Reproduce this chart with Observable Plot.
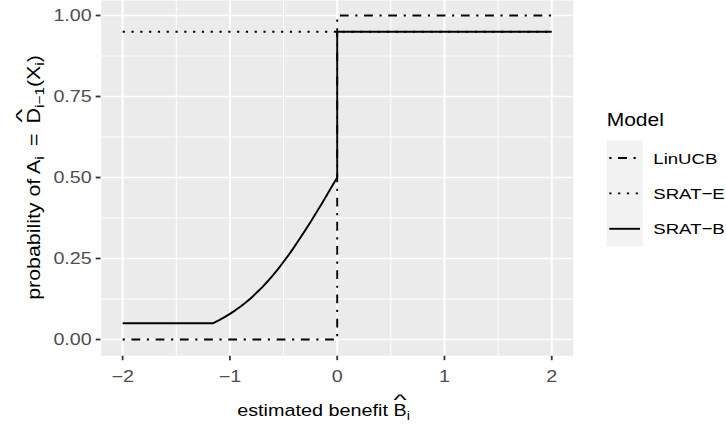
<!DOCTYPE html>
<html><head><meta charset="utf-8">
<script src="https://cdn.jsdelivr.net/npm/d3@7"></script>
<script src="https://cdn.jsdelivr.net/npm/@observablehq/plot@0.6"></script>
<style>
html,body{margin:0;padding:0;background:#fff;}
svg text{white-space:pre;}
</style>
</head><body><div id="chart"></div>
<script>
// ---- data ----
const xTicks = [-2, -1, 0, 1, 2];
const xMinor = [-1.5, -0.5, 0.5, 1.5];
const yTicks = [0, 0.25, 0.5, 0.75, 1];
const yMinor = [0.125, 0.375, 0.625, 0.875];
const models = ["LinUCB", "SRAT\u2212E", "SRAT\u2212B"];

const linucbX = [-2, 0, 0, 2];
const linucbY = [0, 0, 1, 1];
const sratEX = [-2, 2];
const sratEY = [0.95, 0.95];
const sratBX = [-2, -1.16, -1.10, -1.05, -1.00, -0.95, -0.90, -0.85, -0.80, -0.75, -0.70, -0.65, -0.60,
  -0.55, -0.50, -0.45, -0.40, -0.35, -0.30, -0.25, -0.20, -0.15, -0.10, -0.05, 0, 0, 2];
const sratBY = [0.05, 0.050, 0.060, 0.069, 0.079, 0.090, 0.102, 0.115, 0.129, 0.145, 0.161, 0.179, 0.198,
  0.218, 0.240, 0.262, 0.286, 0.311, 0.336, 0.362, 0.389, 0.416, 0.444, 0.472, 0.500, 0.95, 0.95];

// ---- styles ----
const dashes = {"LinUCB": "2.2,6.6,8.8,6.6", "SRAT\u2212E": "2.2,6.6", "SRAT\u2212B": null};
const FONT = "'Liberation Sans', Arial, Helvetica, sans-serif";
const S = 1.2; // horizontal text stretch

const rows = (xs, ys, m) => xs.map((x, i) => ({x, y: ys[i], model: m}));
const series = [rows(linucbX, linucbY, models[0]), rows(sratEX, sratEY, models[1]), rows(sratBX, sratBY, models[2])];

const lineMarks = series.map((data, i) => Plot.line(data, {
  x: "x", y: "y", stroke: "black", strokeWidth: 1.9,
  strokeLinecap: "butt", strokeLinejoin: "round",
  strokeDasharray: dashes[models[i]] || undefined
}));

const plot = Plot.plot({
  width: 726, height: 425,
  marginLeft: 100.7, marginRight: 153.3, marginTop: 0, marginBottom: 69.8,
  style: {fontFamily: FONT, fontSize: "16.4px", color: "#333333", background: "white", overflow: "visible"},
  x: {domain: [-2.2, 2.2], ticks: xTicks, tickFormat: d => d < 0 ? "\u2212" + Math.abs(d) : String(d), tickSize: 5, tickPadding: 9.5, label: null},
  y: {domain: [-0.05, 1.0463], ticks: yTicks, tickFormat: d => d.toFixed(2), tickSize: 5, tickPadding: 4.5, label: null},
  marks: [
    Plot.frame({fill: "#EBEBEB", stroke: "none"}),
    Plot.ruleX(xMinor, {stroke: "white", strokeWidth: 1.0}),
    Plot.ruleY(yMinor, {stroke: "white", strokeWidth: 0.9}),
    Plot.ruleX(xTicks, {stroke: "white", strokeWidth: 2.0}),
    Plot.ruleY(yTicks, {stroke: "white", strokeWidth: 1.7}),
    ...lineMarks
  ]
});
document.getElementById("chart").appendChild(plot);

// stretch Plot's texts horizontally and colour them like ggplot axis text
plot.querySelectorAll("text").forEach(t => {
  const x = parseFloat(t.getAttribute("x")) || 0;
  const tr = t.getAttribute("transform") || "";
  t.setAttribute("transform", `${tr} translate(${x},0) scale(${S},1) translate(${-x},0)`);
  t.setAttribute("fill", "#4D4D4D");
});
plot.querySelectorAll('g[aria-label$="tick"] path, g.tick line').forEach(p => {
  p.setAttribute("stroke-width", 1.8);
});

const svg = d3.select(plot);

// math-like titles built of tspans
function mathText(transform, parts, fs) {
  const g = svg.append("g").attr("transform", transform + ` scale(${S},1)`);
  const txt = g.append("text").attr("font-family", FONT).attr("font-size", fs)
    .attr("fill", "black").attr("text-anchor", "start");
  let shifted = false;
  const sub = fs * 0.72, drop = fs * 0.24;
  parts.forEach(p => {
    const ts = txt.append("tspan").text(p.t).attr("font-size", p.sub ? sub : fs);
    if (p.sub && !shifted) { ts.attr("dy", drop); shifted = true; }
    else if (!p.sub && shifted) { ts.attr("dy", -drop); shifted = false; }
  });
  const node = txt.node();
  const total = node.getComputedTextLength();
  txt.attr("x", -total / 2);
  let idx = 0;
  parts.forEach(p => {
    if (p.hat) {
      const a = node.getStartPositionOfChar(idx), b = node.getEndPositionOfChar(idx);
      g.append("text").attr("font-family", FONT).attr("font-size", fs * 1.05)
        .attr("text-anchor", "middle").attr("fill", "black")
        .attr("transform", `translate(${(a.x + b.x) / 2},${-fs * 0.66}) scale(1.35,0.85)`)
        .text("^");
    }
    idx += p.t.length;
  });
}

mathText("translate(323.5,416)", [
  {t: "estimated benefit "}, {t: "B", hat: true}, {t: "i", sub: true}
], 16.5);

mathText("translate(39.5,177.5) rotate(-90)", [
  {t: "probability of A"}, {t: "i", sub: true}, {t: "\u2009 = \u2009"}, {t: "D", hat: true},
  {t: "i\u22121", sub: true}, {t: "(X"}, {t: "i", sub: true}, {t: ")"}
], 17.8);

// legend
const lg = svg.append("g").attr("font-family", FONT).attr("text-anchor", "start");
lg.append("text").attr("transform", `translate(606.7,126) scale(${S},1)`).attr("text-anchor", "start")
  .attr("font-size", 17.5).attr("fill", "black").text("Model");
models.forEach((m, i) => {
  const cy = 158 + i * 35.4;
  lg.append("rect").attr("x", 606.7).attr("y", cy - 17.7).attr("width", 36).attr("height", 35.4).attr("fill", "#F2F2F2");
  const ln = lg.append("line").attr("x1", 609.3).attr("x2", 640).attr("y1", cy).attr("y2", cy)
    .attr("stroke", "black").attr("stroke-width", 1.9).attr("stroke-linecap", "butt");
  if (dashes[m]) ln.attr("stroke-dasharray", dashes[m]);
  lg.append("text").attr("transform", `translate(653.3,${cy}) scale(${S},1)`).attr("text-anchor", "start")
    .attr("dy", "0.36em").attr("font-size", 15.5).attr("fill", "black").text(m);
});
</script>
</body></html>
